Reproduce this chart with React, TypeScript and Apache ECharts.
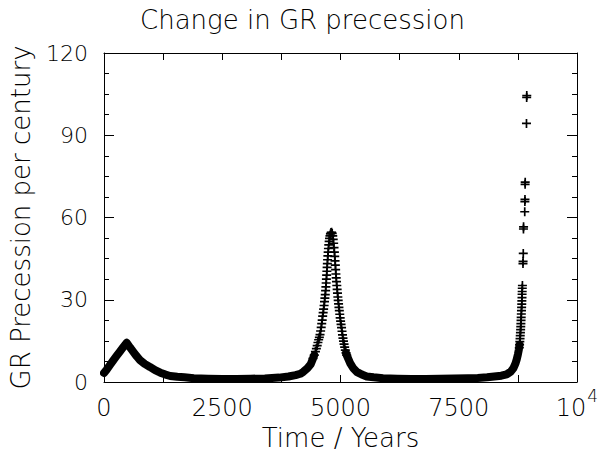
import React, { useEffect, useRef } from 'react';
import * as echarts from 'echarts';

// Time (years) vs GR precession per century
const bandEarly: number[][] = [
  [0, 3.3], [60, 4.6], [130, 6.3], [200, 8.0], [270, 9.6], [340, 11.2], [410, 12.8], [480, 14.3],
  [550, 12.6], [620, 11.0], [690, 9.4], [760, 8.0], [860, 6.6], [970, 5.5], [1080, 4.3], [1190, 3.4],
  [1300, 2.7], [1400, 2.2], [1550, 1.9], [1700, 1.7], [1900, 1.4], [2200, 1.2], [2500, 1.1], [2800, 1.1],
  [3100, 1.2], [3400, 1.3], [3700, 1.6], [3900, 2.0], [4050, 2.5], [4150, 3.0], [4214, 3.7], [4300, 5.0],
  [4370, 6.5], [4419, 8.6], [4445, 9.8],
];

const peak2Rise: number[][] = [
  [4419, 8.6], [4445, 9.8], [4470, 11.1], [4490, 12.2], [4507, 13.3], [4523, 14.4], [4538, 15.4],
  [4553, 16.3], [4567, 17.3], [4580, 18.6], [4592, 19.9], [4603, 21.3], [4613, 22.6], [4623, 24.0],
  [4633, 25.3], [4643, 26.6], [4653, 27.9], [4662, 29.3], [4670, 30.6], [4678, 31.9], [4685, 33.3],
  [4691, 34.7], [4697, 36.1], [4702, 37.5], [4707, 39.0], [4712, 40.4], [4717, 41.8], [4722, 43.2],
  [4727, 44.6], [4733, 46.0], [4739, 47.4], [4745, 48.7], [4752, 50.0], [4760, 51.3], [4768, 52.4],
  [4777, 53.3], [4787, 54.0], [4800, 54.5], [4812, 54.6],
];

const peak2Fall: number[][] = [
  [4825, 54.2], [4836, 53.3], [4846, 52.0], [4855, 50.6], [4863, 49.0], [4871, 47.4], [4878, 45.8],
  [4885, 44.2], [4891, 42.6], [4897, 41.0], [4903, 39.4], [4909, 38.0], [4915, 36.6], [4922, 35.2],
  [4929, 33.8], [4936, 32.4], [4944, 31.0], [4951, 29.8], [4959, 28.5], [4967, 27.2], [4975, 26.0],
  [4984, 24.7], [4993, 23.4], [5002, 22.2], [5012, 21.0], [5022, 19.8], [5032, 18.5], [5042, 17.2],
  [5052, 16.0], [5063, 14.9], [5075, 13.8], [5088, 12.7], [5102, 11.6], [5117, 10.6], [5131, 9.8],
];

const bandLate: number[][] = [
  [5117, 10.6], [5131, 9.8], [5200, 7.0], [5270, 5.0], [5342, 3.7], [5450, 2.7], [5554, 2.0],
  [5700, 1.7], [5900, 1.4], [6200, 1.2], [6500, 1.1], [6800, 1.1], [7100, 1.2], [7400, 1.3],
  [7700, 1.4], [7900, 1.5], [8100, 1.7], [8250, 2.0], [8400, 2.3], [8513, 2.8], [8600, 3.8],
  [8654, 5.0], [8700, 6.8], [8725, 8.2], [8750, 10.0], [8770, 11.8], [8785, 13.5],
];

const peak3: number[][] = [
  [8780, 12.5], [8786, 13.6], [8791, 14.7], [8796, 15.8], [8800, 16.9], [8804, 18.0], [8808, 19.1],
  [8811, 20.2], [8814, 21.3], [8817, 22.5], [8820, 23.6], [8823, 24.8], [8826, 26.0], [8829, 27.2],
  [8832, 28.4], [8834, 29.6], [8837, 30.8], [8839, 32.0], [8841, 33.0], [8843, 34.2], [8846, 35.2],
  [8858, 43.2], [8860, 44.0], [8864, 46.9], [8868, 55.8], [8870, 56.6], [8895, 62.1], [8898, 65.8],
  [8900, 66.6], [8903, 72.1], [8905, 72.9], [8932, 94.3], [8936, 103.8], [8938, 104.5],
];

const X_MIN = 0;
const X_MAX = 10000;
const X_STEP = 2500;
const Y_MIN = 0;
const Y_MAX = 120;
const Y_STEP = 30;

const TITLE = 'Change in GR precession';
const X_NAME = 'Time / Years';
const Y_NAME = 'GR Precession per century';

const PLUS = 'path://M6.5,0H9.5V6.5H16V9.5H9.5V16H6.5V9.5H0V6.5H6.5Z';

export default function App() {
  const ref = useRef<HTMLDivElement>(null);
  useEffect(() => {
    const chart = echarts.init(ref.current!, null, { renderer: 'svg' });
    const font = 'DejaVu Sans';
    const fw = 200;
    const black = '#000';
    const axisLine = { show: true, onZero: false, lineStyle: { color: black, width: 1 } };
    const xTick = { show: true, inside: true, length: 7, lineStyle: { color: black, width: 1 } };
    const xMinor = { show: true, splitNumber: 2, length: 7, lineStyle: { color: black, width: 1 } };
    const yTick = { show: true, inside: true, length: 10, lineStyle: { color: black, width: 1 } };
    const yMinor = { show: true, splitNumber: 4, length: 5, lineStyle: { color: black, width: 1 } };
    const nameStyle = { fontFamily: font, fontSize: 26, fontWeight: fw, color: black };

    const scatterSeries = (data: number[][]) => ({
      type: 'scatter',
      data,
      symbol: PLUS,
      symbolSize: 9,
      itemStyle: { color: black, opacity: 1 },
      silent: true,
      z: 3,
    });
    const bandSeries = (data: number[][]) => ({
      type: 'line',
      data,
      symbol: 'none',
      showSymbol: false,
      lineStyle: { color: black, width: 8, cap: 'round', join: 'round' },
      silent: true,
      z: 2,
    });

    chart.setOption({
      animation: false,
      backgroundColor: '#fff',
      title: {
        text: TITLE,
        left: 'center',
        top: 2,
        textStyle: { fontFamily: font, fontSize: 26, fontWeight: fw, color: black },
      },
      grid: { left: 104, right: 28, top: 53, bottom: 72, containLabel: false, outerBoundsMode: 'none' },
      xAxis: [
        {
          type: 'value', min: X_MIN, max: X_MAX, interval: X_STEP, position: 'bottom',
          name: X_NAME, nameLocation: 'middle', nameGap: 43, nameTextStyle: nameStyle,
          axisLine, axisTick: xTick, minorTick: xMinor,
          splitLine: { show: false }, minorSplitLine: { show: false },
          axisLabel: {
            margin: 5,
            formatter: (v: number) => (v === X_MAX ? '{b|10}{s|4}' : `{b|${v}}`),
            rich: {
              b: { fontFamily: font, fontSize: 24, fontWeight: fw, color: black, padding: [9, 0, 0, 0] },
              s: { fontFamily: font, fontSize: 17, fontWeight: fw, color: black, padding: [0, 0, 16, 1] },
            },
          },
        },
        {
          type: 'value', min: X_MIN, max: X_MAX, interval: X_STEP, position: 'top',
          axisLine, axisTick: xTick, minorTick: xMinor, axisLabel: { show: false },
          splitLine: { show: false }, minorSplitLine: { show: false },
        },
      ],
      yAxis: [
        {
          type: 'value', min: Y_MIN, max: Y_MAX, interval: Y_STEP, position: 'left',
          name: Y_NAME, nameLocation: 'middle', nameGap: 70, nameRotate: 90, nameTextStyle: nameStyle,
          axisLine, axisTick: yTick, minorTick: yMinor,
          splitLine: { show: false }, minorSplitLine: { show: false },
          axisLabel: { margin: 16, fontFamily: font, fontSize: 22, fontWeight: fw, color: black },
        },
        {
          type: 'value', min: Y_MIN, max: Y_MAX, interval: Y_STEP, position: 'right',
          axisLine, axisTick: yTick, minorTick: yMinor, axisLabel: { show: false },
          splitLine: { show: false }, minorSplitLine: { show: false },
        },
      ],
      series: [
        bandSeries(bandEarly),
        bandSeries(bandLate),
        scatterSeries(peak2Rise),
        scatterSeries(peak2Fall),
        scatterSeries(peak3),
      ],
    });
    return () => chart.dispose();
  }, []);
  return (
    <div
      ref={ref}
      style={{ position: 'fixed', left: 0, top: 0, width: 605, height: 454, background: '#fff' }}
    />
  );
}
